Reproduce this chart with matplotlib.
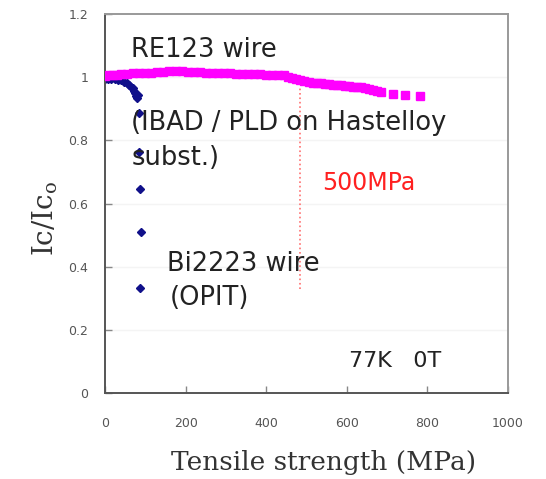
import matplotlib
matplotlib.use('Agg')
import matplotlib.pyplot as plt

plt.rcParams['mathtext.fontset'] = 'custom'
plt.rcParams['mathtext.rm'] = 'DejaVu Serif'

# RE123 coated conductor (IBAD / PLD on Hastelloy)
re_x = [0, 10, 20, 30, 40, 55, 70, 85, 100, 115, 130, 145, 160, 175, 190, 205,
        220, 235, 250, 265, 280, 295, 310, 325, 340, 355, 370, 385, 400, 415,
        430, 445, 455, 465, 475, 485, 495, 505, 515, 525, 535, 545, 555, 565,
        575, 585, 595, 605, 615, 625, 635, 645, 655, 665, 675, 685, 715, 744,
        782]
re_y = [1.005, 1.006, 1.007, 1.008, 1.009, 1.010, 1.012, 1.013, 1.014, 1.014,
        1.015, 1.017, 1.019, 1.018, 1.020, 1.017, 1.016, 1.015, 1.014, 1.013,
        1.013, 1.012, 1.012, 1.011, 1.011, 1.010, 1.010, 1.009, 1.008, 1.008,
        1.007, 1.006, 1.002, 0.997, 0.993, 0.990, 0.987, 0.985, 0.983, 0.982,
        0.980, 0.979, 0.977, 0.976, 0.975, 0.974, 0.973, 0.971, 0.970, 0.969,
        0.968, 0.966, 0.963, 0.960, 0.957, 0.954, 0.948, 0.945, 0.940]

# Bi2223 wire (OPIT)
bi_x = [0, 8, 16, 24, 32, 40, 48, 55, 60, 65, 70, 72, 75, 78, 80, 82, 84, 84,
        87, 89, 87]
bi_y = [0.995, 0.995, 0.994, 0.993, 0.992, 0.990, 0.985, 0.980, 0.975, 0.970,
        0.965, 0.955, 0.950, 0.940, 0.935, 0.945, 0.888, 0.762, 0.646, 0.510,
        0.331]

y_ticks = [0, 0.2, 0.4, 0.6, 0.8, 1.0, 1.2]
y_ticklabels = ['0', '0.2', '0.4', '0.6', '0.8', '1', '1.2']
x_ticks = [0, 200, 400, 600, 800, 1000]

limit_x = 484
limit_y = (0.33, 0.97)

fig = plt.figure(figsize=(5.46, 4.79), dpi=100)
ax = fig.add_axes([0.1923, 0.1795, 0.7381, 0.7913])

ax.set_xlim(0, 1000)
ax.set_ylim(0, 1.2)

for yt in y_ticks[1:-1]:
    ax.axhline(yt, color='#f4f4f4', lw=1, zorder=0)

ax.plot(bi_x, bi_y, linestyle='none', marker='D', markersize=4.2,
        color='#10108a', zorder=2)
ax.plot(re_x, re_y, linestyle='none', marker='s', markersize=6,
        color='#ff00ff', zorder=3)

ax.vlines(limit_x, limit_y[0], limit_y[1], colors='#ff7070', linestyles=':', lw=1.2, zorder=1)

ax.set_xticks(x_ticks)
ax.set_yticks(y_ticks)
ax.set_yticklabels(y_ticklabels)
ax.tick_params(direction='in', length=5, width=1, color='#888888',
               labelsize=9, labelcolor='#555555')
ax.tick_params(axis='x', pad=17)
ax.tick_params(axis='y', pad=12)

for side in ['left', 'bottom']:
    ax.spines[side].set_color('#555555')
    ax.spines[side].set_linewidth(1.4)
for side in ['top', 'right']:
    ax.spines[side].set_color('#999999')
    ax.spines[side].set_linewidth(1.4)

txt = dict(color='#222222', fontsize=18.5, va='center', ha='left')
ax.text(65, 1.085, 'RE123 wire', **txt)
ax.text(65, 0.855, '(IBAD / PLD on Hastelloy', **txt)
ax.text(65, 0.745, 'subst.)', **txt)
ax.text(155, 0.41, 'Bi2223 wire', **txt)
ax.text(160, 0.30, '(OPIT)', **txt)
ax.text(540, 0.665, '500MPa', color='#ff2020', fontsize=17, va='center', ha='left')
ax.text(605, 0.10, '77K   0T', color='#222222', fontsize=16, va='center', ha='left')

ax.set_xlabel('Tensile strength (MPa)', family='DejaVu Serif', fontsize=19,
              color='#333333')
ax.xaxis.set_label_coords(0.543, -0.182)
ax.xaxis.label.set_va('center')
ax.set_ylabel(r'Ic/Ic$_{\mathrm{o}}$', family='DejaVu Serif', fontsize=20,
              color='#333333')
ax.yaxis.set_label_coords(-0.149, 0.462)
ax.yaxis.label.set_va('center')

fig.savefig('out.png', dpi=100)
